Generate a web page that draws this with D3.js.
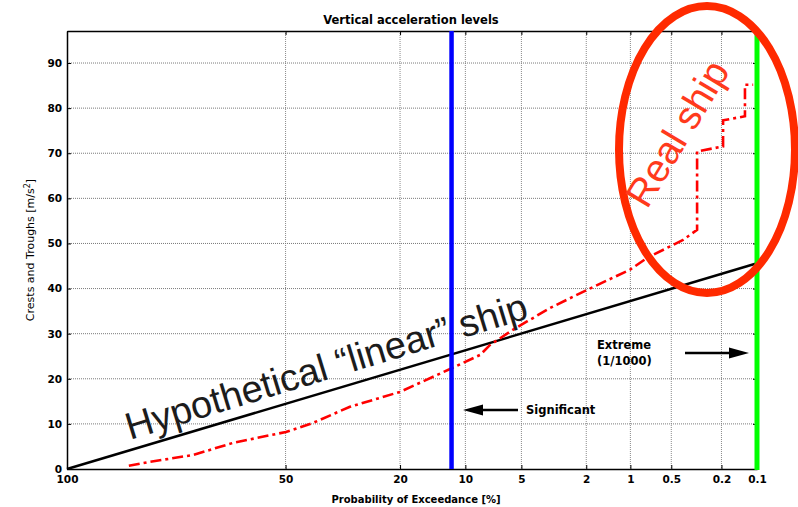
<!DOCTYPE html>
<html>
<head>
<meta charset="utf-8">
<script src="https://cdn.jsdelivr.net/npm/d3@7"></script>
<style>
  html, body { margin: 0; padding: 0; background: #fff; }
  svg { display: block; }
</style>
</head>
<body>
<svg id="chart" width="798" height="507"></svg>
<script>
// ---------------- data ----------------
const xTickValues = [100, 50, 20, 10, 5, 2, 1, 0.5, 0.2, 0.1];   // probability of exceedance [%]
const yTickValues = [0, 10, 20, 30, 40, 50, 60, 70, 80, 90];
const linearShipP = [100, 0.1];
const linearShipY = [0, 45.6];
const realShipP = [94.6, 90.5, 79.4, 67.0, 49.9, 41.6, 31.3, 20.0, 11.6, 8.4, 7.45, 5.57, 4.64, 3.38, 1.98, 1.005, 0.758, 0.406, 0.315, 0.315, 0.194, 0.194, 0.127, 0.127, 0.108];
const realShipY = [0.7, 1.6, 3.1, 5.8, 8.2, 10.2, 13.8, 17.1, 22.4, 25.3, 27.5, 30.9, 32.7, 35.7, 39.7, 44.2, 46.8, 50.8, 53.0, 70.4, 71.5, 77.3, 78.2, 85.2, 85.2];
const significantP = 11.7;
const extremeP = 0.1;
const titleText = "Vertical acceleration levels";
const xLabelText = "Probability of Exceedance [%]";

// ---------------- layout ----------------
const svg = d3.select("#chart");
const L = 67, R = 757, T = 31, B = 469;
const yMax = 97.1;

// Rayleigh probability scale: t = sqrt(-ln(p))
const tr = p => Math.sqrt(-Math.log(p / 100));
const lin = d3.scaleLinear().domain([0, tr(0.1)]).range([L, R]);
function x(p) { return lin(tr(p)); }
x.domain = () => [100, 0.1];
x.range = () => [L, R];
x.copy = () => x;

const y = d3.scaleLinear().domain([0, yMax]).range([B, T]);

const fontBold = "'DejaVu Sans', Verdana, sans-serif";

// grid
const grid = svg.append("g");
grid.selectAll("line.vx").data(xTickValues.slice(1, -1)).enter().append("line")
  .attr("x1", d => x(d)).attr("x2", d => x(d)).attr("y1", T).attr("y2", B)
  .attr("stroke", "#8a8a8a").attr("stroke-width", 1).attr("stroke-dasharray", "1,1");
grid.selectAll("line.hy").data(yTickValues.slice(1)).enter().append("line")
  .attr("x1", L).attr("x2", R).attr("y1", d => y(d)).attr("y2", d => y(d))
  .attr("stroke", "#7a7a7a").attr("stroke-width", 1).attr("stroke-dasharray", "1,1");

// axes
const xAxis = d3.axisBottom(x).tickValues(xTickValues).tickSizeInner(-4).tickSizeOuter(0).tickPadding(7)
  .tickFormat(d => String(d));
const gx = svg.append("g").attr("transform", `translate(0,${B})`).call(xAxis);
const xAxisTop = d3.axisTop(x).tickValues(xTickValues).tickSizeInner(-4).tickSizeOuter(0).tickFormat("");
const gxt = svg.append("g").attr("transform", `translate(0,${T})`).call(xAxisTop);
const yAxis = d3.axisLeft(y).tickValues(yTickValues).tickSizeInner(-4).tickSizeOuter(0).tickPadding(5);
const gy = svg.append("g").attr("transform", `translate(${L},0)`).call(yAxis);
const yAxisR = d3.axisRight(y).tickValues(yTickValues).tickSizeInner(-4).tickSizeOuter(0).tickFormat("");
const gyr = svg.append("g").attr("transform", `translate(${R},0)`).call(yAxisR);

[gx, gxt, gy, gyr].forEach(g => {
  g.select(".domain").attr("stroke", "#000").attr("stroke-width", 1.5);
  g.selectAll(".tick line").attr("stroke", "#000");
  g.selectAll(".tick text").attr("font-family", fontBold).attr("font-weight", "bold")
    .attr("font-size", 10.5).attr("fill", "#000");
});

// title & labels
svg.append("text").attr("x", 411).attr("y", 24).attr("text-anchor", "middle")
  .attr("font-family", fontBold).attr("font-weight", "bold").attr("font-size", 11.5)
  .text(titleText);
svg.append("text").attr("x", 416).attr("y", 503).attr("text-anchor", "middle")
  .attr("font-family", fontBold).attr("font-weight", "bold").attr("font-size", 10)
  .text(xLabelText);
const yl = svg.append("text").attr("transform", "translate(34,250) rotate(-90)")
  .attr("text-anchor", "middle").attr("font-family", "'DejaVu Sans', sans-serif")
  .attr("font-size", 11).attr("fill", "#000");
yl.append("tspan").text("Crests and Troughs [m/s");
yl.append("tspan").attr("baseline-shift", "super").attr("font-size", 8).text("2");
yl.append("tspan").text("]");

// linear ship line
const line = d3.line().x((d, i) => x(d[0])).y(d => y(d[1]));
svg.append("path").datum(linearShipP.map((p, i) => [p, linearShipY[i]]))
  .attr("d", line).attr("fill", "none").attr("stroke", "#000").attr("stroke-width", 2.5);

// real ship line
svg.append("path").datum(realShipP.map((p, i) => [p, realShipY[i]]))
  .attr("d", line).attr("fill", "none").attr("stroke", "#ff0000").attr("stroke-width", 2.6)
  .attr("stroke-dasharray", "11,4,3,4");

// vertical level lines
svg.append("line").attr("x1", x(significantP)).attr("x2", x(significantP)).attr("y1", T).attr("y2", B)
  .attr("stroke", "#0000ff").attr("stroke-width", 4.5);
svg.append("line").attr("x1", x(extremeP)).attr("x2", x(extremeP)).attr("y1", T).attr("y2", B + 1)
  .attr("stroke", "#00ff00").attr("stroke-width", 5);

// annotations
function arrow(x1, x2, yy) {
  const dir = Math.sign(x2 - x1);
  const base = x2 - dir * 20;
  svg.append("line").attr("x1", x1).attr("x2", base).attr("y1", yy).attr("y2", yy)
    .attr("stroke", "#000").attr("stroke-width", 2.5);
  svg.append("path").attr("d", `M${x2},${yy} L${base},${yy - 5.5} L${base},${yy + 5.5} Z`).attr("fill", "#000");
}
arrow(518, 463, 410);
arrow(685, 749, 353);
svg.append("text").attr("x", 526).attr("y", 414).attr("font-family", fontBold).attr("font-weight", "bold")
  .attr("font-size", 11.5).text("Significant");
svg.append("text").attr("x", 597).attr("y", 349).attr("font-family", fontBold).attr("font-weight", "bold")
  .attr("font-size", 11.5).text("Extreme");
svg.append("text").attr("x", 597).attr("y", 365).attr("font-family", fontBold).attr("font-weight", "bold")
  .attr("font-size", 11.5).text("(1/1000)");

svg.append("text").attr("transform", "translate(130,440) rotate(-17)")
  .attr("font-family", "'Liberation Sans', Arial, sans-serif").attr("font-size", 38)
  .attr("fill", "#1c1c1c").text("Hypothetical \u201Clinear\u201D ship");

svg.append("ellipse").attr("cx", 707).attr("cy", 149.5).attr("rx", 88).attr("ry", 143.5)
  .attr("fill", "none").attr("stroke", "#ff2a00").attr("stroke-width", 8);
svg.append("text").attr("transform", "translate(647,210) rotate(-59)")
  .attr("font-family", "'Liberation Sans', Arial, sans-serif").attr("font-size", 39)
  .attr("fill", "#ff3a1c").text("Real ship");
</script>
</body>
</html>
